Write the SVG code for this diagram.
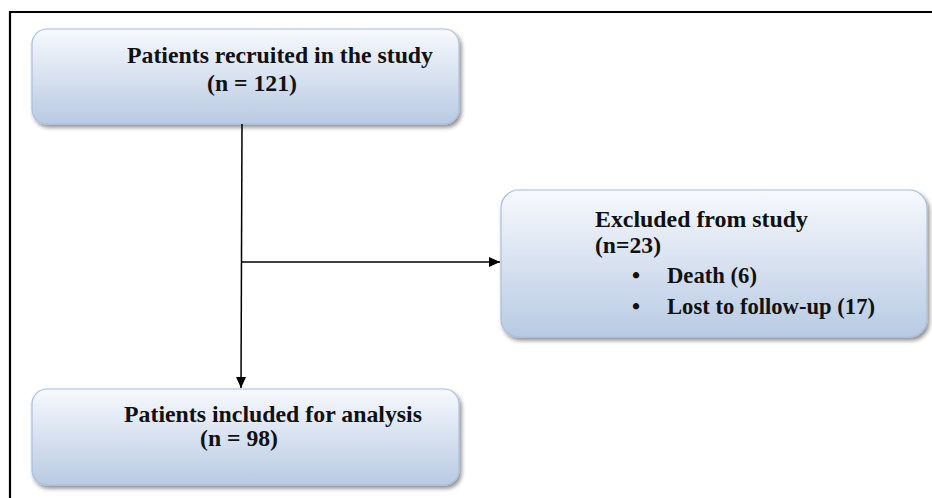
<svg xmlns="http://www.w3.org/2000/svg" width="932" height="498" viewBox="0 0 932 498">
<defs>
<linearGradient id="g" x1="0" y1="0" x2="0" y2="1">
<stop offset="0" stop-color="#f7f9fd"/>
<stop offset="1" stop-color="#b8cae3"/>
</linearGradient>
<filter id="sh" x="-5%" y="-10%" width="112%" height="125%">
<feGaussianBlur in="SourceAlpha" stdDeviation="2"/>
<feOffset dx="2" dy="3" result="b"/>
<feComponentTransfer><feFuncA type="linear" slope="0.45"/></feComponentTransfer>
<feMerge><feMergeNode/><feMergeNode in="SourceGraphic"/></feMerge>
</filter>
<marker id="ah" markerWidth="12" markerHeight="12" refX="11" refY="6" orient="auto" markerUnits="userSpaceOnUse">
<path d="M0,1 L11,6 L0,11 Z" fill="#000"/>
</marker>
</defs>
<style>
.box{fill:url(#g);stroke:#a9bfdd;stroke-width:1.2;filter:url(#sh)}
.t{font-family:"Liberation Serif","Times New Roman",serif;font-weight:bold;font-size:23px;fill:#111}
.c{stroke:#000;stroke-width:1.5;fill:none}
</style>
<rect x="0" y="0" width="932" height="498" fill="#fff"/>
<path d="M10,498 V12 H932" fill="none" stroke="#000" stroke-width="2.2"/>
<g id="n1">
<rect class="box" x="32" y="29" width="427" height="95" rx="15"/>
<text class="t" x="127" y="63" textLength="306" lengthAdjust="spacingAndGlyphs">Patients recruited in the study</text>
<text class="t" x="207" y="91" textLength="90" lengthAdjust="spacingAndGlyphs">(n = 121)</text>
</g>
<g id="n2">
<rect class="box" x="501" y="190" width="426" height="147" rx="18"/>
<text class="t" x="595" y="227" textLength="213" lengthAdjust="spacingAndGlyphs">Excluded from study</text>
<text class="t" x="595" y="253" textLength="66" lengthAdjust="spacingAndGlyphs">(n=23)</text>
<text class="t" x="632" y="283">•</text>
<text class="t" x="667" y="283" textLength="90" lengthAdjust="spacingAndGlyphs">Death (6)</text>
<text class="t" x="632" y="314">•</text>
<text class="t" x="667" y="314" textLength="208" lengthAdjust="spacingAndGlyphs">Lost to follow-up (17)</text>
</g>
<g id="n3">
<rect class="box" x="32" y="389" width="427" height="96" rx="15"/>
<text class="t" x="124" y="422" textLength="298" lengthAdjust="spacingAndGlyphs">Patients included for analysis</text>
<text class="t" x="200" y="446" textLength="78" lengthAdjust="spacingAndGlyphs">(n = 98)</text>
</g>
<g id="connectors">
<line class="c" x1="242" y1="124" x2="241" y2="388" marker-end="url(#ah)"/>
<line class="c" x1="241" y1="262" x2="500" y2="262" marker-end="url(#ah)"/>
</g>
</svg>
